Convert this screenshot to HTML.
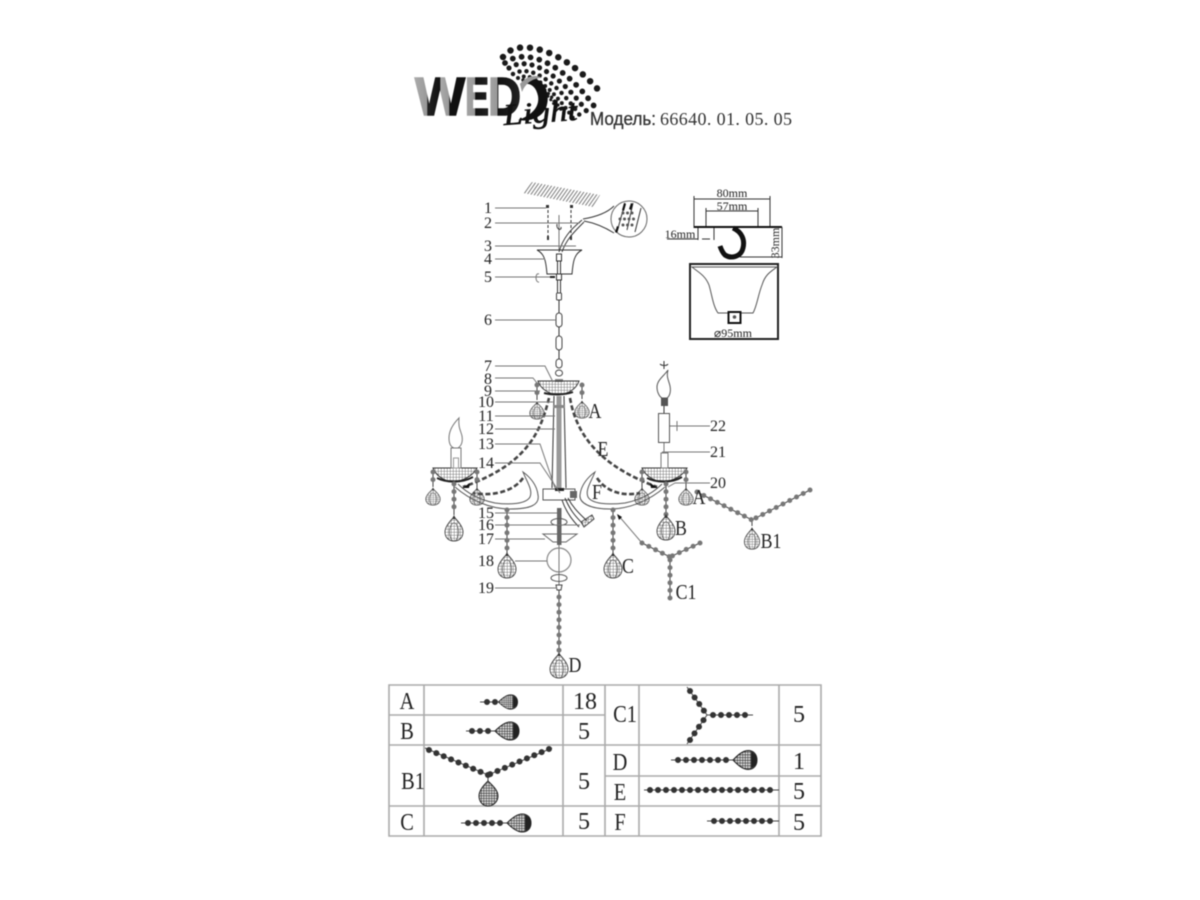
<!DOCTYPE html>
<html><head><meta charset="utf-8"><title>66640.01.05.05</title>
<style>
html,body{margin:0;padding:0;background:#fff}
svg{display:block;filter:blur(.5px)}
text{font-family:"Liberation Serif",serif;fill:#222}
.n{font-size:16px;text-anchor:middle}
.L{font-size:21px;text-anchor:middle}
.T{font-size:24px;text-anchor:middle}
.l{fill:none;stroke:#777;stroke-width:1}
.k{fill:none;stroke:#333;stroke-width:1}
.bd{fill:none;stroke:#777;stroke-width:5;stroke-linecap:round;stroke-dasharray:0 7.6}
.bc{fill:none;stroke:#444;stroke-width:1}
.e{fill:none;stroke:#444;stroke-width:2.6;stroke-dasharray:5 2.5}
.td{fill:none;stroke:#333;stroke-width:6;stroke-linecap:round;stroke-dasharray:0 8}
.g{stroke:#aaa;stroke-width:1.6;fill:none}
.dot{fill:none;stroke:#1a1a1a;stroke-linecap:round}
.wed{font-family:"Liberation Sans",sans-serif;font-weight:700;font-size:54px;stroke-width:1.6px}
</style></head><body>
<svg width="1200" height="900" viewBox="0 0 1200 900" xmlns="http://www.w3.org/2000/svg">
<defs>
<linearGradient id="gw" x1="0" x2="1" y1="0" y2="0"><stop offset="0" stop-color="#aaa"/><stop offset=".24" stop-color="#999"/><stop offset=".25" stop-color="#222"/><stop offset=".5" stop-color="#111"/><stop offset=".51" stop-color="#aaa"/><stop offset=".68" stop-color="#999"/><stop offset=".69" stop-color="#111"/><stop offset="1" stop-color="#111"/></linearGradient>
<linearGradient id="ge" x1="0" x2="1" y1="0" y2="0"><stop offset="0" stop-color="#a5a5a5"/><stop offset=".42" stop-color="#999"/><stop offset=".43" stop-color="#111"/><stop offset="1" stop-color="#222"/></linearGradient>
<linearGradient id="gd" x1="0" x2="1" y1="0" y2="0"><stop offset="0" stop-color="#a5a5a5"/><stop offset=".28" stop-color="#999"/><stop offset=".29" stop-color="#111"/><stop offset="1" stop-color="#222"/></linearGradient>
<pattern id="mesh" width="3" height="3" patternUnits="userSpaceOnUse"><path d="M0 0H3M0 0V3" stroke="#555" stroke-width=".8" fill="none"/></pattern>
<pattern id="mesh2" width="2.6" height="2.6" patternUnits="userSpaceOnUse"><rect width="2.6" height="2.6" fill="#ddd"/><path d="M0 0H2.6M0 0V2.6" stroke="#222" stroke-width="1" fill="none"/></pattern>
<pattern id="hatch" width="3" height="3" patternUnits="userSpaceOnUse" patternTransform="rotate(35)"><path d="M0 0V3" stroke="#666" stroke-width="1.7"/></pattern>
<g id="drop"><path d="M0-12C3-9 9-3 9 3 9 9 5 12 0 12-5 12-9 9-9 3-9-3-3-9 0-12Z" fill="url(#mesh)" stroke="#444" stroke-width=".9"/><ellipse cx="0" cy="3" rx="4.5" ry="9" fill="none" stroke="#555" stroke-width=".7"/><path d="M-2-10 0-14 2-10Z" fill="#333"/></g>
<g id="tdrop"><path d="M-12 0C-9-3-3-9 3-9 9-9 12-5 12 0 12 5 9 9 3 9-3 9-9 3-12 0Z" fill="url(#mesh2)" stroke="#222"/><path d="M6-8C11-6 12-3 12 0 12 3 11 6 6 8Z" fill="#222"/></g>
</defs>

<!-- logo -->
<g>
<path class="dot" stroke-width="6.5" stroke-dasharray="0 10" d="M503 57C518 36 565 50 601 93"/>
<path class="dot" stroke-width="5.8" stroke-dasharray="0 9" d="M505 63C525 47 562 62 594 106"/>
<path class="dot" stroke-width="5.2" stroke-dasharray="0 8" d="M509 68C528 55 558 72 588 113"/>
<path class="dot" stroke-width="4.5" stroke-dasharray="0 7" d="M513 74C530 64 555 80 581 117"/>
<path class="dot" stroke-width="4" stroke-dasharray="0 6" d="M518 78C532 71 552 88 573 118"/>
<path class="dot" stroke-width="3.4" stroke-dasharray="0 5" d="M523 80C535 77 550 93 565 115"/>
<path class="dot" stroke-width="3" stroke-dasharray="0 4.5" d="M527 80C538 82 550 98 558 110"/>
<path d="M528 78C542 76 552 92 546 108 541 118 530 122 518 120 530 116 540 108 538 96 536 86 530 82 520 84Z" fill="#111"/>
<path d="M520 84C526 76 536 74 542 78 534 78 526 82 522 92Z" fill="#999"/>
<text class="wed" x="415" y="115" textLength="50" lengthAdjust="spacingAndGlyphs" style="fill:url(#gw);stroke:url(#gw)">W</text>
<text class="wed" x="465" y="115" textLength="24" lengthAdjust="spacingAndGlyphs" style="fill:url(#ge);stroke:url(#ge)">E</text>
<text class="wed" x="488" y="115" textLength="33" lengthAdjust="spacingAndGlyphs" style="fill:url(#gd);stroke:url(#gd)">D</text>
<text transform="translate(504,125) rotate(-4)" font-size="30" font-style="italic" textLength="74" lengthAdjust="spacingAndGlyphs" style="fill:#111;stroke:#111;stroke-width:.6">Light</text>
<text x="590" y="125" font-size="18" textLength="66" lengthAdjust="spacingAndGlyphs" style='font-family:"Liberation Sans",sans-serif;fill:#333;stroke:#333;stroke-width:.3'>Модель:</text>
<text x="660" y="125" font-size="18" textLength="132" style="fill:#333">66640. 01. 05. 05</text>
</g>

<!-- ceiling and mount -->
<path d="M523 193 532 182 600 195 593 207Z" fill="url(#hatch)"/>
<path class="k" stroke-dasharray="3 2" d="M548 205V240M571 205V240"/>
<path d="M546 205h3v3h-3zM570 205h3v3h-3zM547 236h2v4h-2zM570 236h2v4h-2z" fill="#333"/>
<path class="l" d="M559 215V250"/>
<path class="k" d="M557 224C556 230 562 231 561 227"/>
<path class="k" d="M559 252C563 238 570 230 582 220M562 252C566 240 573 233 584 222"/>
<path class="k" d="M583 219C595 217 607 213 614 206M584 221C595 223 606 228 614 233"/>
<circle cx="629" cy="219" r="18" fill="#fff" stroke="#666" stroke-width="1"/>
<path class="k" d="M625 203 617 232M633 203 627 230M641 208 635 232"/>
<path d="M624 203l2 1-2 7-2-1zM631 203l2 1-2 6-2-1zM617 226l2 1-2 6-2-1z" fill="#111"/>
<path class="dot" stroke-width="3" stroke-dasharray="0 4.5" d="M620 219H638M623 225H636M623 213H634" style="stroke:#555"/>
<!-- canopy -->
<path class="k" d="M537 250H582C574 254 573 262 572 274H547C546 262 545 254 537 250Z"/>
<rect x="556.5" y="254" width="5" height="7" fill="#fff" stroke="#333"/>
<path class="k" d="M557.5 261V296M560.5 261V296"/>
<rect x="556.5" y="274" width="5" height="6" fill="#fff" stroke="#333"/>
<path d="M550 276h5v2h-5z" fill="#222"/>
<path class="l" d="M539 274C535 272 535 283 539 282"/>
<rect x="556.5" y="293" width="5" height="7" rx="1" fill="#fff" stroke="#444"/>
<path class="k" d="M559 300V313"/>
<rect x="556" y="313" width="6" height="14" rx="3" fill="#fff" stroke="#444"/>
<path class="k" d="M559 327V336"/>
<rect x="556" y="336" width="6" height="14" rx="3" fill="#fff" stroke="#444"/>
<path class="k" d="M559 350V362"/>
<rect x="556" y="359" width="6" height="9" rx="3" fill="#fff" stroke="#444"/>
<ellipse cx="559" cy="373" rx="3.5" ry="3" fill="none" stroke="#444"/>
<path d="M555 379h8v3h-8z" fill="#888"/>

<!-- top bowl and column -->
<path d="M538 381C541 390 550 394 558 395 567 394 576 390 579 381Z" fill="url(#mesh)" stroke="#333"/>
<path d="M538 381H579" stroke="#333"/>
<path d="M544 393C552 395 565 395 573 392" stroke="#222" stroke-width="2" fill="none"/>
<path class="k" d="M554 396 552 488M564 396 566 488"/>
<path d="M556.500 396h5v92h-5z" fill="#999"/>
<rect x="553" y="405" width="12" height="3" fill="#888"/>
<!-- hub -->
<rect x="543" y="489" width="32" height="11" fill="#fff" stroke="#555"/>
<path d="M555 488h9v3h-9z" fill="#222"/>
<path d="M570 491h7v7h-7z" fill="#666"/>
<path class="k" d="M565 498C570 510 575 516 583 524M568 498C573 508 580 514 587 521M562 500C566 512 572 520 579 527"/>
<path d="M581 522 592 515 594 519 584 527Z" fill="url(#mesh)" stroke="#444"/>
<!-- arms -->
<path class="k" d="M455 487C470 500 490 509 510 509 530 509 540 505 538 495 537 485 530 477 523 472 527 482 533 490 530 497 526 504 510 505 495 503 480 500 468 494 458 484" style="stroke:#555"/>
<path class="k" d="M665 487C650 500 630 509 610 509 590 509 579 503 580 495 581 485 588 477 595 472 591 482 585 490 588 497 592 504 608 505 625 503 640 500 652 494 662 484" style="stroke:#555"/>
<!-- left candle -->
<path d="M433 468C437 477 445 481 453 482 462 481 472 477 477 468Z" fill="url(#mesh)" stroke="#333"/>
<path d="M433 468H477" stroke="#333"/>
<path d="M437 478C447 483 462 483 473 477" stroke="#222" stroke-width="2" fill="none"/>
<rect x="451" y="448" width="10" height="20" fill="#fff" stroke="#777"/>
<rect x="453.500" y="458" width="5" height="10" fill="none" stroke="#999"/>
<path class="l" d="M459 418C452 425 449 432 449 438 449 444 451 447 454 448H458C461 446 463 442 462 436 461 431 458 428 459 418Z"/>
<!-- right candle -->
<path d="M642 468C646 477 655 481 663 482 672 481 682 477 687 468Z" fill="url(#mesh)" stroke="#333"/>
<path d="M642 468H687" stroke="#333"/>
<path d="M647 478C657 483 672 483 682 477" stroke="#222" stroke-width="2" fill="none"/>
<rect x="661" y="453" width="7" height="15" fill="#fff" stroke="#777"/>
<path class="l" d="M664 443V453"/>
<rect x="658.500" y="413.500" width="11" height="29" fill="#fff" stroke="#555"/>
<path class="k" d="M664 406V413"/>
<rect x="661" y="398" width="7" height="8" fill="#555"/>
<path class="l" d="M668 370C664 376 657 380 657 387 657 393 660 397 662 398H667C670 396 671 391 670 386 669 381 666 377 668 370Z" style="stroke:#555"/>
<path class="k" d="M664 361V369M660 364C662 366 667 366 668 364"/>

<!-- E chains -->
<path class="e" d="M549 398C540 435 525 465 463 487"/>
<path class="e" d="M570 398C578 445 612 470 657 487"/>
<path d="M462 488 470 483 469 488Z" fill="#111"/><path d="M658 488 650 483 651 488Z" fill="#111"/>
<!-- F chains -->
<path class="e" d="M523 478C515 490 495 497 473 493"/>
<path class="e" d="M597 478C605 490 620 497 640 493"/>

<!-- pendant chains & drops -->
<path class="bc" d="M537 383V400M582 383V399M433 471V487M477 471V488M686 471V488M642 471V488M454 482V515M666 482V517M507 509V553M613 509V553M559 590V652"/>
<path class="bd" d="M537 385V398"/><path class="bd" d="M582 385V397"/>
<path class="bd" d="M433 472V486"/><path class="bd" d="M477 472V486"/>
<path class="bd" d="M642 472V486"/><path class="bd" d="M686 472V486"/>
<path class="bd" d="M454 484V514"/><path class="bd" d="M666 484V516"/>
<path class="bd" d="M507 510V552"/><path class="bd" d="M613 510V552"/>
<path class="bd" d="M559 597V651"/>
<use href="#drop" transform="translate(537,411) scale(.8,.68)"/>
<use href="#drop" transform="translate(582,410) scale(.8,.68)"/>
<use href="#drop" transform="translate(433,497) scale(.8,.68)"/>
<use href="#drop" transform="translate(477,497) scale(.8,.68)"/>
<use href="#drop" transform="translate(642,497) scale(.8,.68)"/>
<use href="#drop" transform="translate(686,497) scale(.8,.68)"/>
<use href="#drop" transform="translate(454,529)"/>
<use href="#drop" transform="translate(666,528)"/>
<use href="#drop" transform="translate(507,566)"/>
<use href="#drop" transform="translate(613,566)"/>
<use href="#drop" transform="translate(559,666)"/>
<!-- B1 -->
<path class="bc" d="M697 492 752 520 810 490M752 520V526"/>
<path class="bd" d="M697 492 752 520"/><path class="bd" d="M810 490 752 520"/>
<use href="#drop" transform="translate(752,539) scale(.85,.85)"/>
<!-- C1 -->
<path class="bc" d="M642 543 670 557 700 543M670 557V600"/>
<path class="bd" d="M642 543 670 557"/><path class="bd" d="M700 543 670 557"/><path class="bd" d="M670 560V600"/>
<path class="l" d="M618 515 642 543"/><path d="M617 514 622 517 619 520Z" fill="#111"/>

<!-- lower column -->
<path d="M557 508h4.500v37H557z" fill="#666"/>
<ellipse cx="559" cy="522" rx="8" ry="3.500" fill="none" stroke="#555"/>
<path d="M543 534H577L566 542H553Z" fill="#fff" stroke="#666"/>
<path d="M557 534h4.500v11H557z" fill="#666"/>
<circle cx="559" cy="560" r="12" fill="#fff" stroke="#888" stroke-width="1.200"/>
<path class="l" d="M559 545V590"/>
<ellipse cx="559" cy="578" rx="8" ry="3.500" fill="none" stroke="#555"/>
<path d="M556 585h6l-1 5h-4Z" fill="#fff" stroke="#444"/>

<!-- leaders -->
<path class="l" d="M495 208H546M495 223H580M495 246H576M495 259H545M495 277H550M495 320H556"/>
<path class="l" d="M495 366H545L553 382M495 378H533L537 383M495 391H540M495 402H553M495 416H555M495 429H555M495 444H540L555 488M495 463H540L560 493M495 513H557M495 525H580M495 539H545M515 561H547M495 588H557"/>
<path class="l" d="M670 426H710M677 421V431M662 452H710M668 487 675 483H710"/>

<!-- numbers -->
<text class="n" x="488" y="213">1</text><text class="n" x="488" y="228">2</text><text class="n" x="488" y="251">3</text><text class="n" x="488" y="264">4</text><text class="n" x="488" y="282">5</text><text class="n" x="488" y="325">6</text>
<text class="n" x="488" y="371">7</text><text class="n" x="488" y="384">8</text><text class="n" x="488" y="396">9</text><text class="n" x="486" y="407">10</text><text class="n" x="486" y="421">11</text><text class="n" x="486" y="434">12</text><text class="n" x="486" y="449">13</text><text class="n" x="486" y="468">14</text><text class="n" x="486" y="518">15</text><text class="n" x="486" y="530">16</text><text class="n" x="486" y="544">17</text><text class="n" x="486" y="566">18</text><text class="n" x="486" y="593">19</text>
<text class="n" x="718" y="431">22</text><text class="n" x="718" y="457">21</text><text class="n" x="718" y="488">20</text>
<text class="L" transform="translate(595,418) scale(.85,1)">A</text>
<text class="L" transform="translate(603,456) scale(.85,1)">E</text>
<text class="L" transform="translate(597,499) scale(.85,1)">F</text>
<text class="L" transform="translate(699,504) scale(.85,1)">A</text>
<text class="L" transform="translate(681,535) scale(.85,1)">B</text>
<text class="L" transform="translate(771,548) scale(.85,1)">B1</text>
<text class="L" transform="translate(628,573) scale(.85,1)">C</text>
<text class="L" transform="translate(686,599) scale(.85,1)">C1</text>
<text class="L" transform="translate(575,672) scale(.85,1)">D</text>

<!-- hook detail -->
<path class="k" d="M694 196V228M770 196V228M694 199H770M706 208V227M758 208V227M706 211H758M698 228V240M714 228V240M667 239H698M702 239H710"/>
<path d="M694 227H782" stroke="#111" stroke-width="2"/>
<path class="k" d="M782 227V258M740 257H782"/>
<path d="M733 228C742 232 745 240 743 248 741 257 731 259 725 255 722 252 721 249 720 246" fill="none" stroke="#111" stroke-width="5"/>
<text x="732" y="197" font-size="12" text-anchor="middle">80mm</text>
<text x="732" y="210" font-size="12" text-anchor="middle">57mm</text>
<text x="680" y="238" font-size="12" text-anchor="middle">16mm</text>
<text transform="translate(779,243) rotate(-90)" font-size="12" text-anchor="middle">33mm</text>
<rect x="690" y="264" width="88" height="75" fill="none" stroke="#222" stroke-width="2"/>
<path class="k" d="M692 267H777C770 272 765 275 762 285 758 295 757 306 753 313H718C713 306 712 295 709 285 705 275 698 272 692 267Z" style="stroke:#555"/>
<rect x="728.500" y="312" width="12" height="11" fill="#fff" stroke="#111" stroke-width="2"/>
<circle cx="734.500" cy="317" r="1.800" fill="#555"/>
<text x="733" y="337" font-size="12" text-anchor="middle">⌀95mm</text>

<!-- table -->
<path class="g" d="M389 685H821V836H389ZM424 685V836M563 685V836M605 685V836M639 685V836M779 685V836M389 715H605M389 745H821M605 776H821M389 806H821"/>
<text class="T" transform="translate(407,709) scale(.85,1)">A</text>
<text class="T" transform="translate(407,739) scale(.85,1)">B</text>
<text class="T" transform="translate(413,789) scale(.85,1)">B1</text>
<text class="T" transform="translate(407,830) scale(.85,1)">C</text>
<text class="T" transform="translate(625,722) scale(.85,1)">C1</text>
<text class="T" transform="translate(620,770) scale(.85,1)">D</text>
<text class="T" transform="translate(620,800) scale(.85,1)">E</text>
<text class="T" transform="translate(620,830) scale(.85,1)">F</text>
<text class="T" x="585" y="709">18</text><text class="T" x="584" y="739">5</text><text class="T" x="584" y="789">5</text><text class="T" x="584" y="829">5</text>
<text class="T" x="799" y="722">5</text><text class="T" x="799" y="769">1</text><text class="T" x="799" y="799">5</text><text class="T" x="799" y="830">5</text>

<path class="bc" d="M480 702H500M466 731H495M425 748 488 775 552 748M488 775V782M461 823H507M687 687 707 715 687 744M707 715H753M671 760H733M644 790H779M707 821H779"/>
<path class="td" d="M487 702H500"/><use href="#tdrop" transform="translate(508,702) scale(.8,.8)"/>
<path class="td" d="M472 731H495"/><use href="#tdrop" transform="translate(507,731)"/>
<path class="td" d="M429 750 488 775"/><path class="td" d="M549 749 488 775"/>
<path d="M488 781C492 785 498 790 498 796 498 802 493 806 488 806 483 806 479 802 479 796 479 790 484 785 488 781Z" fill="url(#mesh2)" stroke="#222"/>
<path class="td" d="M468 823H507"/><use href="#tdrop" transform="translate(519,823)"/>
<path class="td" d="M690 691 707 715"/><path class="td" d="M690 740 707 715"/><path class="td" d="M713 715H753"/>
<path class="td" d="M678 760H733"/><use href="#tdrop" transform="translate(745,760) scale(1,1.050)"/>
<path class="td" d="M650 790H776"/>
<path class="td" d="M714 821H776"/>
</svg>
</body></html>
